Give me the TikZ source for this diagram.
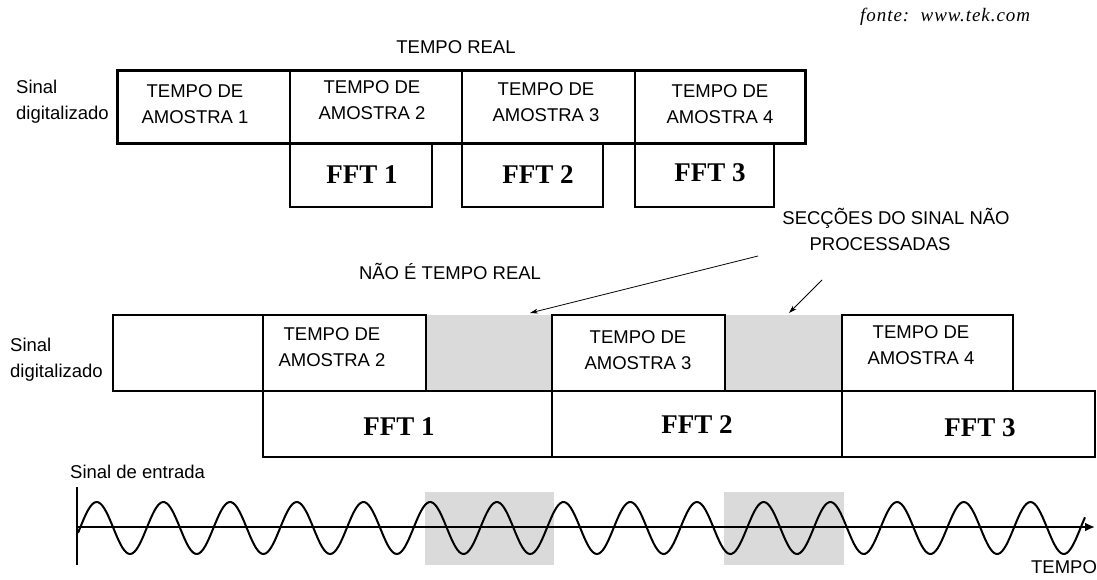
\documentclass[tikz,border=0pt]{standalone}
\usepackage{fontspec}
\setmainfont{Liberation Sans}
\newfontfamily\timesf{Liberation Serif}
\newfontfamily\fontef[LetterSpace=5]{Liberation Serif}
\usetikzlibrary{arrows.meta}
\definecolor{shadegray}{RGB}{218,218,218}
\begin{document}
\begin{tikzpicture}[x=1pt,y=-1pt,
  cell/.style={draw, line width=1.4pt, inner sep=0pt, outer sep=0pt, anchor=north west},
  shadebox/.style={fill=shadegray, draw=none, inner sep=0pt, outer sep=0pt, anchor=north west},
  lbl/.style={font=\fontsize{18.5}{26}\selectfont, inner sep=0pt, align=center},
  fftl/.style={font=\timesf\bfseries\fontsize{27}{30}\selectfont, inner sep=0pt},
  ptr/.style={line width=0.8pt, -{Stealth[length=8pt,width=5pt]}},
]
\useasboundingbox[fill=white] (0,0) rectangle (1097,579);

% ---------- top row (tempo real) ----------
\node[cell, minimum width=173pt, minimum height=73pt] (t1) at (117,70) {};
\node[cell, minimum width=172pt, minimum height=73pt] (t2) at (290,70) {};
\node[cell, minimum width=173pt, minimum height=73pt] (t3) at (462,70) {};
\node[cell, minimum width=170pt, minimum height=73pt] (t4) at (635,70) {};
\node[cell, line width=3pt, minimum width=688pt, minimum height=73pt] (toprow) at (117,70) {};
\node[cell, minimum width=142pt, minimum height=64pt] (f1) at (290,143) {};
\node[cell, minimum width=141pt, minimum height=64pt] (f2) at (462,143) {};
\node[cell, minimum width=139pt, minimum height=64pt] (f3) at (635,143) {};

\node[lbl] (tt1) at (195,104) {TEMPO DE\\AMOSTRA 1};
\node[lbl] (tt2) at (372,100) {TEMPO DE\\AMOSTRA 2};
\node[lbl] (tt3) at (546,102.5) {TEMPO DE\\AMOSTRA 3};
\node[lbl] (tt4) at (720,104) {TEMPO DE\\AMOSTRA 4};
\node[fftl] (ft1) at (362,175) {FFT 1};
\node[fftl] (ft2) at (538,175) {FFT 2};
\node[fftl] (ft3) at (710,173) {FFT 3};

\node[lbl, align=left, anchor=west] (sd1) at (16,102) {Sinal\\digitalizado};
\node[lbl, anchor=base] (treal) at (456,53) {TEMPO REAL};
\node[font=\fontef\itshape\fontsize{19}{22}\selectfont, inner sep=0pt, anchor=base west] (fonte) at (860,21) {fonte:\ \ www.tek.com};

% ---------- middle row (nao e tempo real) ----------
\node[shadebox, minimum width=126pt, minimum height=76pt] (g1) at (426,315) {};
\node[shadebox, minimum width=117pt, minimum height=76pt] (g2) at (725,315) {};
\node[cell, minimum width=150pt, minimum height=76pt] (m0) at (113,315) {};
\node[cell, minimum width=163pt, minimum height=76pt] (m1) at (263,315) {};
\node[cell, minimum width=173pt, minimum height=76pt] (m2) at (552,315) {};
\node[cell, minimum width=171pt, minimum height=76pt] (m3) at (842,315) {};
\node[cell, minimum width=289pt, minimum height=66pt] (F1) at (263,391) {};
\node[cell, minimum width=290pt, minimum height=66pt] (F2) at (552,391) {};
\node[cell, minimum width=253pt, minimum height=66pt] (F3) at (842,391) {};

\node[lbl] (mt1) at (332,347) {TEMPO DE\\AMOSTRA 2};
\node[lbl] (mt2) at (638,350.5) {TEMPO DE\\AMOSTRA 3};
\node[lbl] (mt3) at (921,345) {TEMPO DE\\AMOSTRA 4};
\node[fftl] (Ft1) at (399,427) {FFT 1};
\node[fftl] (Ft2) at (697,425) {FFT 2};
\node[fftl] (Ft3) at (980,428) {FFT 3};

\node[lbl, align=left, anchor=west] (sd2) at (10,360) {Sinal\\digitalizado};
\node[lbl, anchor=base] (ntr) at (450,279) {NÃO É TEMPO REAL};
\node[lbl, anchor=base] (sec1) at (896,224) {SECÇÕES DO SINAL NÃO};
\node[lbl, anchor=base] (sec2) at (880,250) {PROCESSADAS};

\coordinate (a1s) at (758,256);
\coordinate (a1e) at (530,313);
\coordinate (a2s) at (822,280);
\coordinate (a2e) at (789,313);
\draw[ptr] (a1s) -- (a1e);
\draw[ptr] (a2s) -- (a2e);

% ---------- input signal ----------
\node[shadebox, minimum width=129pt, minimum height=73pt] (w1) at (425,492) {};
\node[shadebox, minimum width=120pt, minimum height=73pt] (w2) at (724,492) {};
\node[lbl, anchor=west] (sde) at (70,472) {Sinal de entrada};
\node[lbl] (tempo) at (1064,567) {TEMPO};

\coordinate (vtop) at (77,487);
\coordinate (vbot) at (77,565);
\coordinate (hstart) at (77,527);
\coordinate (hend) at (1095,527);
\draw[line width=1.5pt] (vtop) -- (vbot);
\draw[line width=2pt] plot[domain=78:1085, samples=500, smooth] (\x, {528-26*sin(5.3973*(\x-80))});
\draw[line width=2.6pt, -{Latex[length=10pt,width=9pt]}] (hstart) -- (hend);
\end{tikzpicture}
\end{document}
